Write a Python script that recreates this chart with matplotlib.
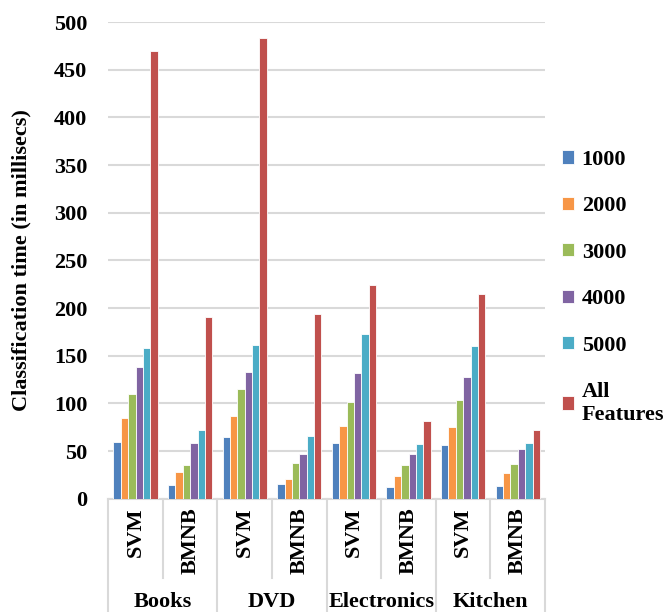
import matplotlib.pyplot as plt
import numpy as np

plt.rcParams['font.family'] = 'Liberation Serif'
plt.rcParams['font.weight'] = 'bold'

domains = ['Books', 'DVD', 'Electronics', 'Kitchen']
classifiers = ['SVM', 'BMNB']
feature_sets = ['1000', '2000', '3000', '4000', '5000', 'All\nFeatures']
colors = ['#4F81BD', '#F79646', '#9BBB59', '#8064A2', '#4BACC6', '#C0504D']

# classification time (ms), one row per domain/classifier pair
svm_books = [60, 85, 110, 138, 158, 470]
bmnb_books = [14, 28, 35, 58, 72, 191]
svm_dvd = [65, 87, 115, 133, 161, 483]
bmnb_dvd = [15, 21, 38, 47, 66, 194]
svm_electronics = [58, 76, 102, 132, 173, 224]
bmnb_electronics = [12, 24, 35, 47, 57, 82]
svm_kitchen = [56, 75, 104, 128, 160, 215]
bmnb_kitchen = [13, 27, 37, 52, 59, 72]

rows = [svm_books, bmnb_books, svm_dvd, bmnb_dvd,
        svm_electronics, bmnb_electronics, svm_kitchen, bmnb_kitchen]
data = np.array(rows)

fig = plt.figure(figsize=(6.68, 6.12), dpi=100)
ax = fig.add_axes([0.162, 0.185, 0.654, 0.779])

n_cells = data.shape[0]
x = np.arange(n_cells)
bw = 0.135
for j, (name, c) in enumerate(zip(feature_sets, colors)):
    offs = (j - 2.5) * bw
    ax.bar(x + offs, data[:, j], bw, color=c, edgecolor='white',
           linewidth=0.6, label=name, zorder=3)

ax.set_xlim(-0.5, n_cells - 0.5)
ax.set_ylim(0, 500)
ax.set_yticks(np.arange(0, 501, 50))
ax.tick_params(axis='y', length=0, labelsize=16, pad=15)
ax.tick_params(axis='x', length=0, labelbottom=False)
ax.yaxis.grid(True, color='#d9d9d9', linewidth=1.5, zorder=0)
for s in ax.spines.values():
    s.set_visible(False)
ax.set_ylabel('Classification time (in millisecs)', fontsize=16,
              fontweight='bold', labelpad=16)

# two-level category axis drawn below the plot
trans = ax.get_xaxis_transform()
line_kw = dict(color='#d9d9d9', linewidth=1.5, transform=trans, clip_on=False)
ax.plot([-0.5, n_cells - 0.5], [0, 0], **line_kw)
bottom = -0.185 / 0.779
sub_bottom = -79 / 477
for b in np.arange(-0.5, n_cells, 1.0):
    if (b + 0.5) % 2 == 0:
        ax.plot([b, b], [0, bottom], **line_kw)
    else:
        ax.plot([b, b], [0, sub_bottom], **line_kw)

for i in range(n_cells):
    ax.text(i, -0.018, classifiers[i % 2], transform=trans, rotation=90,
            ha='center', va='top', fontsize=16, fontweight='bold')
for g, name in enumerate(domains):
    ax.text(2 * g + 0.5, -103 / 477, name, transform=trans, ha='center',
            va='center', fontsize=16, fontweight='bold')

fig.legend(loc='upper left', bbox_to_anchor=(0.811, 0.788), frameon=False,
           handlelength=0.55, handleheight=0.55,
           handletextpad=0.35, labelspacing=1.19,
           prop={'weight': 'bold', 'size': 16})

fig.savefig('out.png', dpi=100)
